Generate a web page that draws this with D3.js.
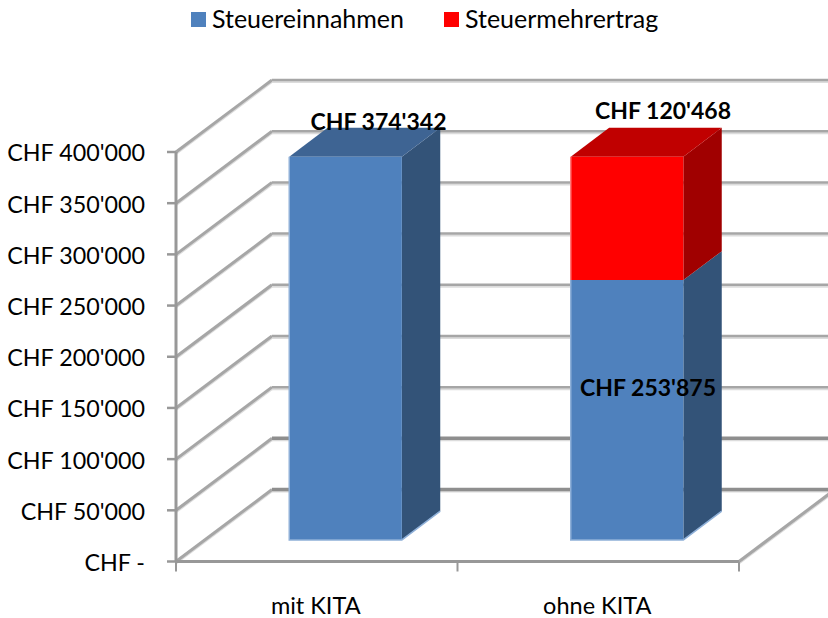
<!DOCTYPE html>
<html>
<head>
<meta charset="utf-8">
<script src="https://cdn.jsdelivr.net/npm/d3@7"></script>
<style>
  html, body { margin: 0; padding: 0; background: #fff; }
  svg { display: block; }
  text { font-family: Lato, "Open Sans", sans-serif; fill: #000; }
</style>
</head>
<body>
<div id="chart"></div>
<script>
// values
var categories = ["mit KITA", "ohne KITA"];
var seriesNames = ["Steuereinnahmen", "Steuermehrertrag"];
var steuereinnahmen = [374342, 253875];
var steuermehrertrag = [0, 120468];
var yTicks = [0, 50000, 100000, 150000, 200000, 250000, 300000, 350000, 400000];

var width = 828, height = 618;

var faceColors = {
  Steuereinnahmen: { front: "#4f81bd", side: "#335378", top: "#3e6493", edge: "#8fb0d8" },
  Steuermehrertrag: { front: "#ff0000", side: "#a00000", top: "#c00000", edge: "#ff7a7a" }
};

var chf = d3.formatLocale({ decimal: ".", thousands: "'", grouping: [3], currency: ["CHF ", ""] }).format("$,.0f");
function tickText(d) { return d === 0 ? "CHF -" : chf(d); }

var svg = d3.select("#chart").append("svg")
  .attr("width", width)
  .attr("height", height);

// front plane of the 3d box
var x = d3.scaleBand().domain(categories).range([176, 739]).paddingInner(0).paddingOuter(0);
var y = d3.scaleLinear().domain([0, 400000]).range([561.5, 152]);

// depth 0 = front plane, 1 = back wall
var depthX = d3.scaleLinear().domain([0, 1]).range([0, 96]);
var depthY = d3.scaleLinear().domain([0, 1]).range([0, -72]);

function px(xVal, depth) { return xVal + depthX(depth); }
function py(yVal, depth) { return y(yVal) + depthY(depth); }

var backRight = width + 7;
var line = d3.line();

function drawLine(parent, points, color, w, shadow) {
  if (shadow) {
    parent.append("path")
      .attr("d", line(points.map(function (p) { return [p[0], p[1] + 2]; })))
      .attr("fill", "none")
      .attr("stroke", "#dcdcdc")
      .attr("stroke-width", 2);
  }
  parent.append("path")
    .attr("d", line(points))
    .attr("fill", "none")
    .attr("stroke", color)
    .attr("stroke-width", w);
}

// gridlines: slanted part on the side wall, flat part on the back wall
var grid = svg.append("g");
yTicks.forEach(function (t) {
  var strong = t === 0 || t === 50000;
  drawLine(grid, [[px(176, 0), py(t, 0)], [px(176, 1), py(t, 1)]], "#a6a6a6", 3, true);
  drawLine(grid, [[px(176, 1), py(t, 1)], [backRight, py(t, 1)]], strong ? "#8e8e8e" : "#a6a6a6", strong ? 3.5 : 2.5, true);
});

// floor right edge
drawLine(grid, [[px(739, 0), py(0, 0)], [px(739, 1), py(0, 1)]], "#a6a6a6", 3, true);

// axes
var axes = svg.append("g").attr("stroke", "#989898").attr("stroke-width", 3);
axes.append("line")
  .attr("x1", 176).attr("x2", 176)
  .attr("y1", y(400000)).attr("y2", y(0));
axes.append("line")
  .attr("x1", 176).attr("x2", 739)
  .attr("y1", y(0)).attr("y2", y(0));
axes.selectAll(".ytick").data(yTicks).enter().append("line")
  .attr("class", "ytick")
  .attr("x1", 167).attr("x2", 176)
  .attr("y1", function (d) { return y(d); })
  .attr("y2", function (d) { return y(d); })
  .attr("stroke-width", 2.5);
var xEdges = [x.range()[0], x.range()[0] + x.step(), x.range()[1]];
axes.selectAll(".xtick").data(xEdges).enter().append("line")
  .attr("class", "xtick")
  .attr("x1", function (d) { return d; })
  .attr("x2", function (d) { return d; })
  .attr("y1", y(0))
  .attr("y2", y(0) + 10)
  .attr("stroke-width", 2);

// tick labels
svg.selectAll(".ylabel").data(yTicks).enter().append("text")
  .attr("class", "ylabel")
  .attr("x", 145)
  .attr("y", function (d) { return y(d) + 1; })
  .attr("dy", "0.36em")
  .attr("text-anchor", "end")
  .attr("font-size", 23.3)
  .text(tickText);

svg.selectAll(".xlabel").data(categories).enter().append("text")
  .attr("class", "xlabel")
  .attr("x", function (d) { return x(d) + x.bandwidth() / 2 - 1; })
  .attr("y", 614)
  .attr("text-anchor", "middle")
  .attr("font-size", 23.5)
  .text(function (d) { return d; });

// stacked bars
var rows = categories.map(function (c, i) {
  return { cat: c, Steuereinnahmen: steuereinnahmen[i], Steuermehrertrag: steuermehrertrag[i] };
});
var stacked = d3.stack().keys(seriesNames)(rows);

var depthFront = 0.3, depthBack = 0.7, barShare = 0.4;

function poly(points) { return points.map(function (p) { return p.join(","); }).join(" "); }

var bars = svg.append("g");
stacked.forEach(function (layer) {
  var c = faceColors[layer.key];
  layer.forEach(function (d, i) {
    if (d[1] <= d[0]) return;
    var mid = x(categories[i]) + x.bandwidth() / 2;
    var half = x.bandwidth() * barShare / 2;
    var xl = mid - half, xr = mid + half;
    var isTop = i === 0 ? layer.key === "Steuereinnahmen" : layer.key === "Steuermehrertrag";
    var g = bars.append("g");

    // side face
    g.append("polygon").attr("fill", c.side).attr("points", poly([
      [px(xr, depthFront), py(d[0], depthFront)],
      [px(xr, depthBack), py(d[0], depthBack)],
      [px(xr, depthBack), py(d[1], depthBack)],
      [px(xr, depthFront), py(d[1], depthFront)]
    ]));
    // top face
    if (isTop) {
      g.append("polygon").attr("fill", c.top).attr("points", poly([
        [px(xl, depthFront), py(d[1], depthFront)],
        [px(xr, depthFront), py(d[1], depthFront)],
        [px(xr, depthBack), py(d[1], depthBack)],
        [px(xl, depthBack), py(d[1], depthBack)]
      ]));
    }
    // front face
    g.append("polygon").attr("fill", c.front).attr("points", poly([
      [px(xl, depthFront), py(d[0], depthFront)],
      [px(xr, depthFront), py(d[0], depthFront)],
      [px(xr, depthFront), py(d[1], depthFront)],
      [px(xl, depthFront), py(d[1], depthFront)]
    ]));
    // light edge along the left and the foot
    g.append("path")
      .attr("fill", "none")
      .attr("stroke", c.edge)
      .attr("stroke-width", 1.5)
      .attr("d", line(d[0] === 0 ? [
        [px(xl, depthFront), py(d[1], depthFront)],
        [px(xl, depthFront), py(d[0], depthFront)],
        [px(xr, depthFront), py(d[0], depthFront)],
        [px(xr, depthBack), py(d[0], depthBack)]
      ] : [
        [px(xl, depthFront), py(d[1], depthFront)],
        [px(xl, depthFront), py(d[0], depthFront)]
      ]));
  });
});

// value labels, nudged where the original sits
var labelRow = [0, 1, 1];
var labelKey = [0, 0, 1];
var labelDx = [33, 21, 36];
var labelY = [130, 396, 119];
labelRow.forEach(function (r, i) {
  var layer = stacked[labelKey[i]][r];
  var mid = x(categories[r]) + x.bandwidth() / 2;
  svg.append("text")
    .attr("class", "vlabel")
    .attr("x", px(mid, depthFront) + labelDx[i])
    .attr("y", labelY[i])
    .attr("text-anchor", "middle")
    .attr("font-size", 23)
    .attr("font-weight", 700)
    .text(chf(layer[1] - layer[0]));
});

// legend
var legendX = [191, 444];
seriesNames.forEach(function (name, i) {
  svg.append("rect")
    .attr("x", legendX[i]).attr("y", 12)
    .attr("width", 15).attr("height", 15)
    .attr("fill", faceColors[name].front);
  svg.append("text")
    .attr("x", legendX[i] + 21)
    .attr("y", 28)
    .attr("font-size", 25)
    .text(name);
});
</script>
</body>
</html>
